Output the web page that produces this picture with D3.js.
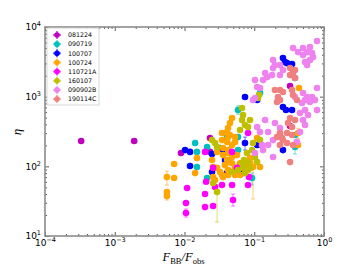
<!DOCTYPE html>
<html>
<head>
<meta charset="utf-8">
<script src="https://cdn.jsdelivr.net/npm/d3@7"></script>
<style>
  body { margin: 0; background: #fff; }
</style>
</head>
<body>
<div id="chart"></div>
<script>
// GRB names and colours, in plotting order
var grbNames = ["081224", "090719", "100707", "100724", "110721A", "160107", "090902B", "190114C"];
var grbColors = ["#bf00bf", "#00bfbf", "#0000ff", "#ffa500", "#ff00ff", "#bfbf00", "#ee82ee", "#f08080"];

// [F_BB/F_obs, eta]
var pts081224 = [[3.3e-4, 231], [1.9e-3, 231], [8.9e-3, 155], [0.0232, 255], [0.0232, 161],
  [0.326, 1420], [0.326, 379]];

var pts090719 = [[0.0142, 216], [0.0151, 161], [0.0151, 98], [0.0211, 189], [0.0211, 68],
  [0.0323, 183], [0.0407, 263], [0.0585, 263], [0.0585, 643], [0.0585, 171], [0.093, 68],
  [0.113, 202], [0.121, 1127], [0.384, 1850], [0.384, 281], [0.384, 189]];

var pts100707 = [[0.0102, 171], [0.012, 161], [0.012, 101], [0.0248, 150], [0.0248, 83],
  [0.0357, 171], [0.0381, 123], [0.0407, 80], [0.0668, 92], [0.0814, 98], [0.0737, 216],
  [0.11, 202], [0.0737, 987], [0.11, 894], [0.258, 3580], [0.276, 3135], [0.295, 3030],
  [0.348, 2935], [0.258, 710], [0.285, 643], [0.348, 643], [0.258, 171]];

var pts100724 = [[5.6e-3, 70], [5.6e-3, 42.8], [5.6e-3, 37.5], [7.1e-3, 108], [7.1e-3, 68],
  [0.0142, 80], [0.0151, 132], [0.0248, 123], [0.0257, 98], [0.0257, 70], [0.0293, 95],
  [0.0323, 83], [0.0345, 75], [0.0357, 70], [0.0381, 104], [0.0421, 88.5], [0.0421, 75],
  [0.048, 111], [0.053, 95], [0.0566, 80], [0.0625, 75], [0.0625, 111], [0.0737, 95],
  [0.0869, 111], [0.0869, 132], [0.093, 98], [0.0814, 88.5], [0.096, 98], [0.121, 98],
  [0.0357, 183], [0.0421, 171], [0.0357, 145], [0.0407, 123], [0.0449, 115], [0.0421, 155],
  [0.048, 136], [0.0345, 301], [0.0407, 311], [0.0421, 355], [0.0449, 419], [0.048, 494],
  [0.0421, 263], [0.0345, 238], [0.0407, 223], [0.053, 263], [0.053, 223], [0.0449, 281],
  [0.11, 255], [0.424, 301], [0.424, 202], [0.438, 1330], [0.0293, 161], [0.048, 202],
  [0.0566, 145], [0.0274, 63.6], [0.053, 75]];

var pts110721A = [[0.0109, 48.8], [0.0105, 29.7], [0.0105, 21.4], [0.0197, 40], [0.0197, 26],
  [0.0257, 26.9], [0.0274, 50.4], [0.048, 53.9], [0.0496, 32.8], [0.0814, 53.9], [0.0841, 70],
  [0.0197, 161], [0.048, 161], [0.0257, 95], [0.0566, 95], [0.0814, 301], [0.0345, 53.9],
  [0.0204, 60]];

var pts160107 = [[0.0248, 238], [0.0274, 216], [0.0293, 189], [0.0257, 57.6], [0.0293, 42.8],
  [0.0668, 687], [0.069, 545], [0.0668, 462], [0.0737, 392], [0.0814, 367], [0.0625, 332],
  [0.0869, 462], [0.113, 955], [0.117, 1055], [0.048, 83], [0.0585, 88.5], [0.0668, 111],
  [0.069, 95], [0.0737, 80], [0.0788, 155], [0.0814, 115], [0.0869, 95], [0.093, 171],
  [0.096, 216], [0.11, 115], [0.121, 238], [0.0713, 123], [0.1025, 136]];

var pts090902B = [[0.794, 6280], [0.63, 5150], [0.5, 4980], [0.571, 4360], [0.673, 4220],
  [0.696, 3700], [0.535, 3135], [0.63, 3350], [0.571, 2840], [0.5, 3950], [0.36, 4980],
  [0.424, 4360], [0.186, 3350], [0.198, 2840], [0.186, 2570], [0.234, 2840], [0.258, 2410],
  [0.234, 2040], [0.18, 2040], [0.143, 2180], [0.153, 1910], [0.134, 1730], [0.1025, 1730],
  [0.11, 1375], [0.121, 1330], [0.096, 894], [0.1025, 955],
  [0.794, 1330], [0.5, 1127], [0.571, 987], [0.673, 987], [0.743, 894], [0.63, 837],
  [0.535, 894], [0.484, 810], [0.384, 987], [0.794, 643], [0.535, 643], [0.453, 582],
  [0.59, 545], [0.5, 462], [0.535, 392], [0.453, 311], [0.41, 223], [0.143, 462],
  [0.198, 419], [0.234, 355], [0.11, 367], [0.121, 311], [0.158, 311], [0.234, 281],
  [0.186, 238], [0.158, 202], [0.129, 202], [0.186, 136], [0.1025, 155], [0.134, 171]];

var pts190114C = [[0.326, 2570], [0.384, 2410], [0.36, 2180], [0.326, 2040], [0.384, 1850],
  [0.198, 1244], [0.234, 1244], [0.258, 1165], [0.219, 987], [0.234, 894], [0.212, 837],
  [0.348, 1244], [0.36, 1055], [0.41, 894], [0.326, 494], [0.384, 462], [0.305, 419],
  [0.348, 367], [0.234, 301], [0.212, 263], [0.25, 255], [0.295, 301], [0.348, 281],
  [0.234, 202], [0.295, 216], [0.36, 202], [0.326, 115], [0.258, 238]];

// visible error bars: [series index, x, low eta, high eta]
var errBars = [[3, 5.6e-3, 53.9, 85.6], [3, 5.6e-3, 32.8, 42.8], [4, 0.0105, 18.7, 24.4],
  [4, 0.0496, 26.9, 40], [5, 0.0293, 15.9, 54], [3, 0.096, 34, 120], [1, 0.093, 54, 80],
  [2, 0.0737, 171, 263], [1, 0.384, 150, 238], [3, 0.424, 250, 350], [1, 0.0585, 560, 740]];

var allSeries = [pts081224, pts090719, pts100707, pts100724, pts110721A, pts160107, pts090902B, pts190114C];

var xMajor = [1e-4, 1e-3, 1e-2, 1e-1, 1];
var yMajor = [10, 100, 1000, 10000];

var svgWidth = 360, svgHeight = 270;
var margin = { top: 27, right: 36, bottom: 34, left: 45 };
var width = svgWidth - margin.left - margin.right;
var height = svgHeight - margin.top - margin.bottom;

var svg = d3.select("#chart").append("svg")
  .attr("width", svgWidth)
  .attr("height", svgHeight)
  .style("font-family", "DejaVu Sans, sans-serif");

var chartGroup = svg.append("g")
  .attr("transform", `translate(${margin.left}, ${margin.top})`);

var xScale = d3.scaleLog().domain([1e-4, 1]).range([0, width]);
var yScale = d3.scaleLog().domain([10, 1e4]).range([height, 0]);

// minor ticks 2..9 in each decade
function minors(lo, hi) {
  var out = [];
  for (var e = lo; e < hi; e++) {
    for (var m = 2; m <= 9; m++) out.push(m * Math.pow(10, e));
  }
  return out;
}
var xMinor = minors(-4, 0);
var yMinor = minors(1, 4);

function supLabel(sel) {
  sel.each(function(d) {
    var t = d3.select(this);
    var e = Math.round(Math.log10(d));
    t.text(null);
    t.append("tspan").text("10");
    t.append("tspan").attr("dy", -4).attr("font-size", "6.5px")
      .text(e < 0 ? "\u2212" + (-e) : e);
  });
}

function styleAxis(g) {
  g.select(".domain").remove();
  g.selectAll("line").attr("stroke", "#333").attr("stroke-width", 0.8);
  g.selectAll("text").attr("font-size", "9px").attr("fill", "#000").attr("font-family", "DejaVu Sans, sans-serif");
}

// bottom / top
chartGroup.append("g").attr("transform", `translate(0, ${height})`)
  .call(d3.axisBottom(xScale).tickValues(xMinor).tickSize(-2).tickFormat(""))
  .call(styleAxis);
var xAx = chartGroup.append("g").attr("transform", `translate(0, ${height})`)
  .call(d3.axisBottom(xScale).tickValues(xMajor).tickSize(-4).tickPadding(4))
  .call(styleAxis);
xAx.selectAll("text").call(supLabel);

chartGroup.append("g")
  .call(d3.axisTop(xScale).tickValues(xMinor).tickSize(-2).tickFormat(""))
  .call(styleAxis);
chartGroup.append("g")
  .call(d3.axisTop(xScale).tickValues(xMajor).tickSize(-4).tickFormat(""))
  .call(styleAxis);

// left / right
chartGroup.append("g")
  .call(d3.axisLeft(yScale).tickValues(yMinor).tickSize(-2).tickFormat(""))
  .call(styleAxis);
var yAx = chartGroup.append("g")
  .call(d3.axisLeft(yScale).tickValues(yMajor).tickSize(-4).tickPadding(4))
  .call(styleAxis);
yAx.selectAll("text").call(supLabel);

chartGroup.append("g").attr("transform", `translate(${width}, 0)`)
  .call(d3.axisRight(yScale).tickValues(yMinor).tickSize(-2).tickFormat(""))
  .call(styleAxis);
chartGroup.append("g").attr("transform", `translate(${width}, 0)`)
  .call(d3.axisRight(yScale).tickValues(yMajor).tickSize(-4).tickFormat(""))
  .call(styleAxis);

// error bars
var eb = chartGroup.append("g").attr("stroke-width", 1.2).attr("stroke-opacity", 0.45);
errBars.forEach(function(b) {
  var c = grbColors[b[0]];
  var cx = xScale(b[1]);
  eb.append("line").attr("x1", cx).attr("x2", cx)
    .attr("y1", yScale(b[2])).attr("y2", yScale(b[3])).attr("stroke", c);
  [b[2], b[3]].forEach(function(v) {
    eb.append("line").attr("x1", cx - 2).attr("x2", cx + 2)
      .attr("y1", yScale(v)).attr("y2", yScale(v)).attr("stroke", c);
  });
});

// points, one group per burst
allSeries.forEach(function(pts, i) {
  chartGroup.append("g")
    .selectAll("circle")
    .data(pts)
    .enter()
    .append("circle")
    .attr("cx", d => xScale(d[0]))
    .attr("cy", d => yScale(d[1]))
    .attr("r", 3.3)
    .attr("fill", grbColors[i]);
});

// frame
chartGroup.append("rect")
  .attr("width", width).attr("height", height)
  .attr("fill", "none").attr("stroke", "#8c8c8c").attr("stroke-width", 1.6);

// legend
var legend = chartGroup.append("g").attr("transform", "translate(2, 1)");
legend.append("rect")
  .attr("width", 52).attr("height", 77)
  .attr("fill", "#fff").attr("stroke", "#cccccc").attr("stroke-width", 0.8);
grbNames.forEach(function(name, i) {
  var ly = 7 + i * 9.15;
  var row = legend.append("g").attr("transform", `translate(10, ${ly})`);
  row.append("line").attr("x1", -4).attr("x2", 4).attr("y1", 0).attr("y2", 0)
    .attr("stroke", grbColors[i]).attr("stroke-width", 2).attr("stroke-opacity", 0.6);
  row.append("line").attr("x1", 0).attr("x2", 0).attr("y1", -4).attr("y2", 4)
    .attr("stroke", grbColors[i]).attr("stroke-width", 2).attr("stroke-opacity", 0.6);
  row.append("circle").attr("r", 2.8).attr("fill", grbColors[i]);
  row.append("text").attr("x", 11).attr("y", 2.2)
    .attr("font-size", "6.3px").attr("fill", "#000").text(name);
});

// axis labels
var xl = svg.append("text")
  .attr("x", margin.left + width / 2 - 1)
  .attr("y", 261)
  .attr("text-anchor", "middle")
  .attr("font-family", "Liberation Serif, DejaVu Serif, serif")
  .attr("font-size", "12.5px")
  .attr("fill", "#000");
xl.append("tspan").attr("font-style", "italic").text("F");
xl.append("tspan").attr("font-size", "8.5px").attr("dy", 2.5).text("BB");
xl.append("tspan").attr("dy", -2.5).attr("font-style", "italic").text("/F");
xl.append("tspan").attr("font-size", "8.5px").attr("dy", 2.5).text("obs");

svg.append("text")
  .attr("transform", "translate(21, 132) rotate(-90)")
  .attr("text-anchor", "middle")
  .attr("font-family", "Liberation Serif, DejaVu Serif, serif")
  .attr("font-style", "italic")
  .attr("font-size", "13px")
  .attr("fill", "#000")
  .text("η");
</script>
</body>
</html>
